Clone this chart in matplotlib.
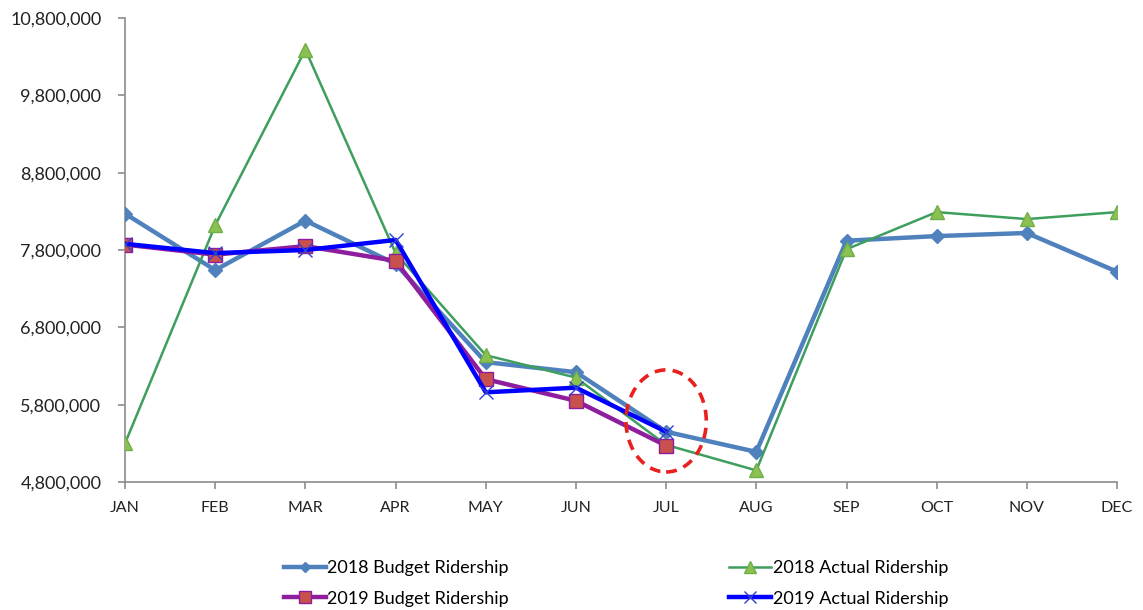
import matplotlib
matplotlib.use("Agg")
import matplotlib.pyplot as plt
from matplotlib.patches import Ellipse
from matplotlib.ticker import FuncFormatter

months = ["JAN", "FEB", "MAR", "APR", "MAY", "JUN", "JUL", "AUG", "SEP", "OCT", "NOV", "DEC"]
budget_2018 = [8270000, 7540000, 8180000, 7620000, 6350000, 6220000, 5450000, 5190000, 7920000, 7980000, 8020000, 7520000]
actual_2018 = [5300000, 8120000, 10390000, 7760000, 6440000, 6150000, 5280000, 4950000, 7810000, 8290000, 8200000, 8290000]
budget_2019 = [7870000, 7740000, 7850000, 7660000, 6130000, 5850000, 5270000]
actual_2019 = [7880000, 7760000, 7800000, 7930000, 5960000, 6020000, 5450000]
yticks = [4800000, 5800000, 6800000, 7800000, 8800000, 9800000, 10800000]

plt.rcParams['font.family'] = ['Lato', 'DejaVu Sans']

fig = plt.figure(figsize=(11.43, 6.10), dpi=100)
ax = fig.add_axes([0.1094, 0.2098, 0.8679, 0.7607])

x = list(range(len(months)))
l1, = ax.plot(x, budget_2018, color="#4F81BD", lw=3.2, marker="D", ms=7,
              mfc="#4F81BD", mec="#4F81BD", label="2018 Budget Ridership", zorder=3)
l2, = ax.plot(x, actual_2018, color="#3E9E5E", lw=1.8, marker="^", ms=10,
              mfc="#8CC152", mec="#6FAE48", label="2018 Actual Ridership", zorder=3)
l3, = ax.plot(x[:len(budget_2019)], budget_2019, color="#8E1E9E", lw=3.2, marker="s", ms=10,
              mfc="#C8504D", mec="#8E1E9E", mew=1, label="2019 Budget Ridership", zorder=4)
l4, = ax.plot(x[:len(actual_2019)], actual_2019, color="#0000FF", lw=3.2, marker="x", ms=10,
              mew=1, mec="#3040D0", label="2019 Actual Ridership", zorder=5)

# highlight ellipse around JUL
ell = Ellipse((6, 5590000), width=0.89, height=1320000, fill=False,
              edgecolor="#E8201E", lw=2.6, ls=(0, (3, 2)), zorder=6)
ax.add_patch(ell)

ax.set_xlim(0, 11)
ax.set_ylim(4800000, 10800000)
ax.set_yticks(yticks)
ax.yaxis.set_major_formatter(FuncFormatter(lambda v, p: f"{int(v):,}"))
ax.set_xticks(x)
ax.set_xticklabels(months)

for s in ["top", "right"]:
    ax.spines[s].set_visible(False)
for s in ["left", "bottom"]:
    ax.spines[s].set_color("#8C8C8C")
    ax.spines[s].set_linewidth(1.2)
ax.tick_params(axis="both", colors="#8C8C8C", length=5, width=1.2, direction="out")
ax.tick_params(axis="y", labelsize=13, labelcolor="#222222", pad=12)
ax.tick_params(axis="x", labelsize=11.5, labelcolor="#222222", pad=9)

leg = fig.legend(handles=[l1, l3, l2, l4], loc="center", ncol=2,
                 bbox_to_anchor=(0.539, 0.0434), frameon=False, fontsize=13,
                 columnspacing=12.2, handlelength=2.3, handletextpad=0.1,
                 labelspacing=0.79, markerscale=0.8, borderpad=0.2)

fig.savefig("out.png", dpi=100)
